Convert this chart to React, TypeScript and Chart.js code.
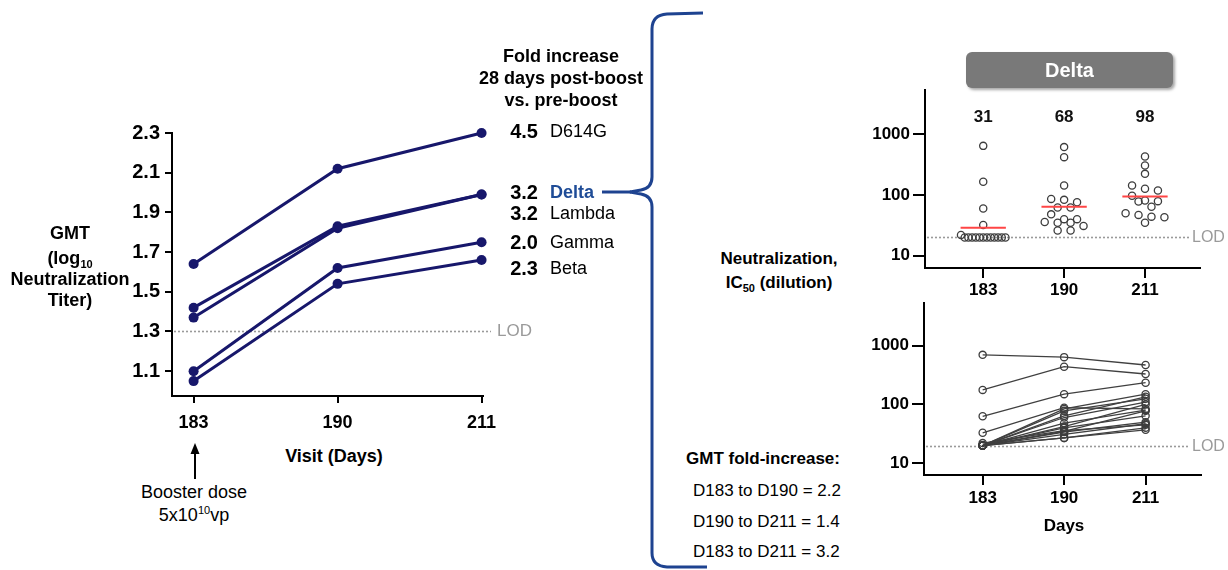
import React, { useEffect, useRef } from 'react';
import { Chart, registerables } from 'chart.js';

Chart.register(...registerables);

const FONT = '"Liberation Sans", Arial, Helvetica, sans-serif';
const NAVY = '#17176b';
const BLUE = '#1f4c97';
const BRACE = '#1e4390';
const DOT = '#3d3d3d';

// ---------- data: left chart (GMT log10 titers) ----------
const VISITS = ['183', '190', '211'];
const VARIANTS = ['D614G', 'Delta', 'Lambda', 'Gamma', 'Beta'];
const FOLD = ['4.5', '3.2', '3.2', '2.0', '2.3'];
const GMT_D614G = [1.64, 2.12, 2.3];
const GMT_DELTA = [1.42, 1.83, 1.99];
const GMT_LAMBDA = [1.37, 1.82, 1.99];
const GMT_GAMMA = [1.1, 1.62, 1.75];
const GMT_BETA = [1.05, 1.54, 1.66];
const LEFT_Y_TICKS = [1.1, 1.3, 1.5, 1.7, 1.9, 2.1, 2.3];
const LEFT_LOD = 1.3;

// ---------- data: Delta individual titers (scatter) ----------
const DOTS_183 = [640, 165, 60, 32, 22, 20, 20, 20, 20, 20, 20, 20, 20, 20, 20, 20, 20];
const DOTS_190 = [611, 418, 143, 86, 83, 76, 62, 62, 48, 40, 40, 36, 35, 35, 31, 26, 26];
const DOTS_211 = [428, 305, 222, 143, 126, 118, 97, 81, 79, 78, 64, 50, 47, 44, 43, 35];
const GMT_LINE = [29, 64, 94];
const GMT_LABELS = ['31', '68', '98'];
const RIGHT_Y_TICKS = [10, 100, 1000];
const LOD = 20;

// ---------- data: paired subjects ----------
const SUBJ_183 = [700, 177, 63, 33, 22, 20, 20, 20, 20, 20, 20, 20, 20, 20, 20, 20, 20];
const SUBJ_190 = [640, 440, 150, 88, 36, 84, 78, 64, 60, 48, 42, 40, 35, 34, 31, 27, 27];
const SUBJ_211 = [470, 330, 235, 84, 45, 150, 125, 135, 110, 80, 100, 64, 78, 50, 47, 40, 37];

function swarm(values: number[], col: number) {
  const sorted = values.slice().sort((a, b) => b - a);
  const bins: number[][] = [];
  for (const v of sorted) {
    const last = bins[bins.length - 1];
    if (last && Math.log10(last[0]) - Math.log10(v) < 0.09) last.push(v);
    else bins.push([v]);
  }
  const pts: { x: number; y: number }[] = [];
  for (const b of bins) {
    const n = b.length;
    const step = n > 1 ? Math.min(0.16, 0.55 / (n - 1)) : 0;
    b.forEach((v, k) => pts.push({ x: col + (k - (n - 1) / 2) * step, y: v }));
  }
  return pts;
}

function lodPlugin(lod: number, extend: number, gap: number, size: number) {
  return {
    id: 'lod',
    beforeDatasetsDraw(chart: any) {
      const { ctx, chartArea, scales } = chart;
      const y = Math.round(scales.y.getPixelForValue(lod)) + 0.5;
      ctx.save();
      ctx.strokeStyle = '#9a9a9a';
      ctx.lineWidth = 1.6;
      ctx.setLineDash([2, 2]);
      ctx.beginPath();
      ctx.moveTo(chartArea.left + 2, y);
      ctx.lineTo(chartArea.right + extend, y);
      ctx.stroke();
      ctx.setLineDash([]);
      ctx.fillStyle = '#9a9a9a';
      ctx.font = `${size}px ${FONT}`;
      ctx.textBaseline = 'middle';
      ctx.textAlign = 'left';
      ctx.fillText('LOD', chartArea.right + extend + gap, y);
      ctx.restore();
    },
  };
}

function axisCommon(font: number, tickLen: number, pad: number, labels?: string[]) {
  return {
    ticks: {
      color: '#000',
      font: { family: FONT, size: font, weight: 'bold' as const },
      padding: pad,
      autoSkip: false,
      maxRotation: 0,
      callback: labels ? (v: any) => labels[v] : undefined,
    },
    grid: { display: true, drawOnChartArea: false, drawTicks: true, tickLength: tickLen, color: '#000', lineWidth: 2 },
    border: { display: true, color: '#000', width: 2 },
  };
}

function leftConfig(): any {
  const series = [GMT_D614G, GMT_DELTA, GMT_LAMBDA, GMT_GAMMA, GMT_BETA];
  return {
    type: 'line',
    data: {
      datasets: series.map((s, i) => ({
        label: VARIANTS[i],
        data: s.map((y, j) => ({ x: j, y })),
        borderColor: NAVY,
        backgroundColor: NAVY,
        borderWidth: 3,
        pointRadius: 5,
        pointBackgroundColor: NAVY,
        pointBorderWidth: 0,
        clip: false,
      })),
    },
    options: {
      animation: false,
      responsive: false,
      maintainAspectRatio: false,
      plugins: { legend: { display: false }, tooltip: { enabled: false } },
      layout: { padding: { left: 0, top: 133, right: 77, bottom: 0 } },
      scales: {
        x: {
          type: 'linear',
          min: -0.15,
          max: 2.01,
          afterBuildTicks: (a: any) => { a.ticks = [0, 1, 2].map((v) => ({ value: v })); },
          afterFit: (a: any) => { a.height = 44; },
          ...axisCommon(18, 7, 9, VISITS),
        },
        y: {
          type: 'linear',
          min: 0.975,
          max: 2.3,
          afterBuildTicks: (a: any) => { a.ticks = LEFT_Y_TICKS.map((v) => ({ value: v })); },
          afterFit: (a: any) => { a.width = 172; },
          ...axisCommon(20, 7, 5),
          ticks: {
            ...axisCommon(20, 7, 5).ticks,
            callback: (v: any) => Number(v).toFixed(1),
          },
        },
      },
    },
    plugins: [lodPlugin(LEFT_LOD, 8, 6, 17)],
  };
}

function rightScales(xPad: number, yWidth: number, xHeight: number) {
  return {
    x: {
      type: 'linear',
      min: -0.72,
      max: 2.68,
      afterBuildTicks: (a: any) => { a.ticks = [0, 1, 2].map((v) => ({ value: v })); },
      afterFit: (a: any) => { a.height = xHeight; },
      ...axisCommon(17, 10, xPad, VISITS),
    },
    y: {
      type: 'logarithmic',
      min: 6.3,
      max: 5300,
      afterBuildTicks: (a: any) => { a.ticks = RIGHT_Y_TICKS.map((v) => ({ value: v })); },
      afterFit: (a: any) => { a.width = yWidth; },
      ...axisCommon(17, 12, 3),
      ticks: {
        ...axisCommon(17, 12, 3).ticks,
        callback: (v: any) => String(v),
      },
    },
  };
}

function scatterConfig(): any {
  const cols = [DOTS_183, DOTS_190, DOTS_211];
  const red = GMT_LINE.map((g, i) => ({
    type: 'line',
    data: [{ x: i - 0.28, y: g }, { x: i + 0.28, y: g }],
    borderColor: '#ff4545',
    borderWidth: 2,
    pointRadius: 0,
  }));
  const dots = cols.map((c, i) => ({
    type: 'scatter',
    data: swarm(c, i),
    pointRadius: 3.6,
    pointBorderColor: DOT,
    pointBackgroundColor: 'rgba(0,0,0,0)',
    pointBorderWidth: 1.3,
    clip: false,
  }));
  return {
    type: 'scatter',
    data: { datasets: [...red, ...dots] },
    options: {
      animation: false,
      responsive: false,
      maintainAspectRatio: false,
      plugins: { legend: { display: false }, tooltip: { enabled: false } },
      layout: { padding: { left: 0, top: 50, right: 28, bottom: 0 } },
      scales: rightScales(2, 65, 42),
    },
    plugins: [
      lodPlugin(LOD, -10, 2, 16),
      {
        id: 'gmtLabels',
        afterDraw(chart: any) {
          const { ctx, chartArea, scales } = chart;
          ctx.save();
          ctx.fillStyle = '#111';
          ctx.font = `bold 17px ${FONT}`;
          ctx.textAlign = 'center';
          ctx.textBaseline = 'middle';
          GMT_LABELS.forEach((t, i) => ctx.fillText(t, scales.x.getPixelForValue(i), chartArea.top + 27));
          ctx.restore();
        },
      },
    ],
  };
}

function pairedConfig(): any {
  return {
    type: 'line',
    data: {
      datasets: SUBJ_183.map((a, i) => ({
        data: [
          { x: 0, y: a },
          { x: 1, y: SUBJ_190[i] },
          { x: 2, y: SUBJ_211[i] },
        ],
        borderColor: '#404040',
        borderWidth: 1.3,
        pointRadius: 3.6,
        pointBorderColor: DOT,
        pointBackgroundColor: 'rgba(0,0,0,0)',
        pointBorderWidth: 1.3,
        clip: false,
      })),
    },
    options: {
      animation: false,
      responsive: false,
      maintainAspectRatio: false,
      plugins: { legend: { display: false }, tooltip: { enabled: false } },
      layout: { padding: { left: 0, top: 8, right: 27, bottom: 55 } },
      scales: rightScales(3, 64, 40),
    },
    plugins: [lodPlugin(LOD, -13, 4, 16)],
  };
}

function ChartBox({ left, top, width, height, make }: { left: number; top: number; width: number; height: number; make: () => any }) {
  const ref = useRef<HTMLCanvasElement>(null);
  useEffect(() => {
    if (!ref.current) return;
    const chart = new Chart(ref.current, make());
    return () => chart.destroy();
  }, []);
  return (
    <canvas
      ref={ref}
      width={width}
      height={height}
      style={{ position: 'absolute', left, top, width, height }}
    />
  );
}

type LP = {
  x: number;
  y: number;
  size?: number;
  bold?: boolean;
  color?: string;
  align?: 'left' | 'center' | 'right';
  children: React.ReactNode;
};

function Label({ x, y, size = 17, bold = false, color = '#000', align = 'center', children }: LP) {
  const tx = align === 'center' ? '-50%' : align === 'right' ? '-100%' : '0';
  return (
    <div
      style={{
        position: 'absolute',
        left: x,
        top: y,
        transform: `translate(${tx}, -50%)`,
        fontSize: size,
        fontWeight: bold ? 700 : 400,
        color,
        whiteSpace: 'nowrap',
        lineHeight: 1,
        fontFamily: FONT,
      }}
    >
      {children}
    </div>
  );
}

const ROW_Y = [131, 192, 213, 242, 268];
const SUB = { fontSize: 11, verticalAlign: 'baseline', position: 'relative' as const, top: 4 };
const SUP = { fontSize: 11, verticalAlign: 'baseline', position: 'relative' as const, top: -7 };

export default function App() {
  useEffect(() => {
    document.body.style.margin = '0';
  }, []);
  return (
    <div style={{ position: 'relative', width: 1228, height: 570, background: '#fff', overflow: 'hidden', fontFamily: FONT }}>
      <svg style={{ position: 'absolute', left: 0, top: 0 }} width={1228} height={570}>
        <path
          d="M 703 13 L 667 14 Q 652 15 652 29 L 652 177 Q 652 188 641 190 L 630 192 L 641 194 Q 652 196 652 207 L 652 553 Q 652 566 667 567 L 707 567"
          fill="none"
          stroke={BRACE}
          strokeWidth={3}
        />
        <line x1={602} y1={192} x2={631} y2={192} stroke={BRACE} strokeWidth={3} />
        <line x1={195} y1={479} x2={195} y2={452} stroke="#000" strokeWidth={2} />
        <polygon points="195,443 190.5,454 199.5,454" fill="#000" />
      </svg>

      <ChartBox left={0} top={0} width={560} height={440} make={leftConfig} />
      <ChartBox left={860} top={40} width={368} height={270} make={scatterConfig} />
      <ChartBox left={860} top={290} width={368} height={280} make={pairedConfig} />

      {/* left axis title */}
      <Label x={70} y={233} bold size={18}>GMT</Label>
      <Label x={70} y={258} bold size={18}>
        (log<sub style={SUB}>10</sub>
      </Label>
      <Label x={70} y={279} bold size={18}>Neutralization</Label>
      <Label x={70} y={300} bold size={18}>Titer)</Label>
      <Label x={334} y={456} bold size={18}>Visit (Days)</Label>
      <Label x={194} y={492} size={18}>Booster dose</Label>
      <Label x={194} y={515} size={18}>
        5x10<sup style={SUP}>10</sup>vp
      </Label>

      {/* fold increase block */}
      <Label x={561} y={56} bold size={18}>Fold increase</Label>
      <Label x={561} y={78} bold size={18}>28 days post-boost</Label>
      <Label x={561} y={100} bold size={18}>vs. pre-boost</Label>
      {VARIANTS.map((v, i) => (
        <React.Fragment key={v}>
          <Label x={538} y={ROW_Y[i]} bold size={20} align="right">{FOLD[i]}</Label>
          <Label
            x={550}
            y={ROW_Y[i]}
            size={18}
            align="left"
            bold={v === 'Delta'}
            color={v === 'Delta' ? BLUE : '#000'}
          >
            {v}
          </Label>
        </React.Fragment>
      ))}

      {/* middle texts */}
      <Label x={779} y={258} bold>Neutralization,</Label>
      <Label x={779} y={282} bold>
        IC<sub style={SUB}>50</sub> (dilution)
      </Label>
      <Label x={686} y={458} bold align="left">GMT fold-increase:</Label>
      <Label x={693} y={490} align="left">D183 to D190 = 2.2</Label>
      <Label x={693} y={521} align="left">D190 to D211 = 1.4</Label>
      <Label x={693} y={551} align="left">D183 to D211 = 3.2</Label>

      {/* Delta header box */}
      <div
        style={{
          position: 'absolute',
          left: 966,
          top: 52,
          width: 207,
          height: 36,
          background: '#797979',
          borderRadius: 6,
          boxShadow: '2px 2px 3px rgba(0,0,0,0.35)',
          color: '#fff',
          fontWeight: 700,
          fontSize: 20,
          fontFamily: FONT,
          display: 'flex',
          alignItems: 'center',
          justifyContent: 'center',
        }}
      >
        Delta
      </div>

      <Label x={1064} y={525} bold>Days</Label>
    </div>
  );
}
